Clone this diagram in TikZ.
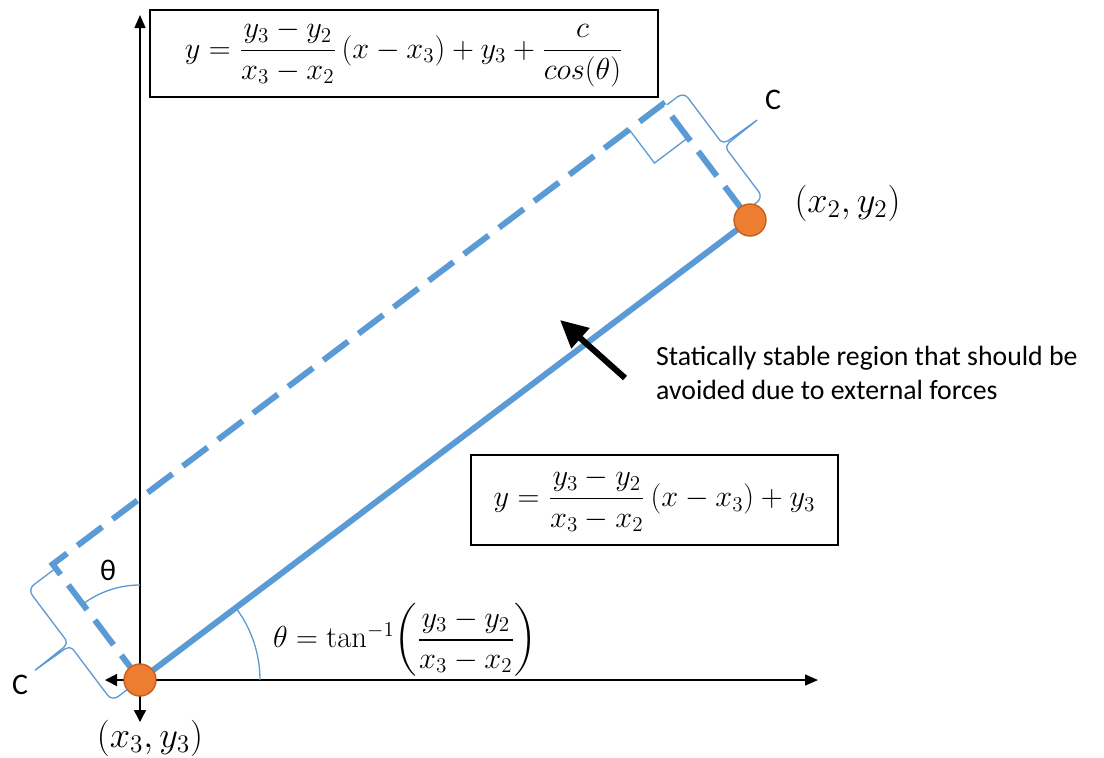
\documentclass[tikz,border=0pt]{standalone}
\usepackage{amsmath}
\usepackage{fontspec}
\newfontfamily\labelfont{Carlito}
\usetikzlibrary{positioning,arrows.meta,calc}
\definecolor{lineblue}{RGB}{91,155,213}
\definecolor{ptorange}{RGB}{237,125,49}
\definecolor{ptedge}{RGB}{196,96,30}

\begin{document}
\begin{tikzpicture}[
    axis/.style={line width=0.8pt, -{Triangle[length=2.6mm,width=2.2mm]}},
    thinblue/.style={draw=lineblue, line width=0.75pt},
    thickblue/.style={draw=lineblue, line width=3.4pt},
    bluedash/.style={draw=lineblue, line width=3.4pt, dash pattern=on 0.62cm off 0.26cm, line join=miter},
    endpt/.style={circle, fill=ptorange, draw=ptedge, line width=0.8pt, minimum size=0.64cm, inner sep=0pt},
    eqbox/.style={draw, line width=0.8pt, fill=white, inner sep=0pt, font=\fontsize{17.5}{20}\selectfont},
    ptlabel/.style={font=\fontsize{21}{25}\selectfont},
    clabel/.style={font=\labelfont\fontsize{17}{20}\selectfont},
    note/.style={font=\labelfont\fontsize{15.8}{19.3}\selectfont, align=left},
    bigarrow/.style={line width=3.4pt, -{Triangle[length=5.5mm,width=5.2mm]}},
  ]
  \useasboundingbox (0,0) rectangle (22.08,-15.14);

  % Points
  \coordinate (O) at (2.8,-13.6);
  \coordinate (P2) at (15,-4.4);
  \coordinate (A) at ($(O)+(127.02:2.9)$);
  \coordinate (B) at ($(P2)+(127.02:2.9)$);
  \coordinate (ytop) at (2.8,-0.3);
  \coordinate (xend) at (16.36,-13.6);
  \coordinate (cleft) at (2.1,-13.6);
  \coordinate (cdown) at (2.8,-14.44);

  % Axes
  \draw[axis] (O) -- (ytop);
  \draw[axis] (O) -- (xend);
  \draw[axis, -{Triangle[length=2.4mm,width=2.4mm]}] (O) -- (cleft);
  \draw[axis, -{Triangle[length=2.4mm,width=2.4mm]}] (O) -- (cdown);

  % Angles
  \draw[thinblue] ($(O)+(2.4,0)$) arc[start angle=0, end angle=37.02, radius=2.4];
  \draw[thinblue] ($(O)+(0,1.9)$) arc[start angle=90, end angle=127.02, radius=1.9];

  % Region
  \draw[bluedash] (O) -- (A) -- (B) -- (P2);
  \draw[thickblue] (O) -- (P2);

  % Right angle at B
  \begin{scope}[shift={(B)}, rotate=-52.98]
    \draw[thinblue] (0.84,0) -- (0.84,-0.84) -- (0,-0.84);
  \end{scope}

  % Braces
  \begin{scope}[shift={(O)}, rotate=127.02]
    \draw[thinblue] (0,0.3) -- (0,0.55) to[out=90,in=180] (0.15,0.7) -- (1.3,0.7)
      to[out=0,in=-100] (1.4,0.82) -- (1.42,1.56) -- (1.44,0.82)
      to[out=-80,in=180] (1.54,0.7) -- (2.65,0.7)
      to[out=0,in=90] (2.8,0.55) -- (2.8,0.06);
  \end{scope}
  \begin{scope}[shift={(B)}, rotate=-52.98]
    \draw[thinblue] (0.06,0.06) -- (0.06,0.33) to[out=90,in=180] (0.2,0.48) -- (1.27,0.48)
      to[out=0,in=-100] (1.37,0.6) -- (1.39,1.32) -- (1.41,0.6)
      to[out=-80,in=180] (1.51,0.48) -- (2.55,0.48)
      to[out=0,in=90] (2.7,0.33) -- (2.7,0.1);
  \end{scope}

  % End points
  \node[endpt] (p3) at (O) {};
  \node[endpt] (p2) at (P2) {};

  % Labels
  \node[ptlabel] (p3lbl) at (3.0,-14.76) {$(x_3,y_3)$};
  \node[ptlabel] (p2lbl) at (16.95,-4.06) {$(x_2,y_2)$};
  \node[clabel] (cbot) at (0.4,-13.7) {C};
  \node[clabel] (ctop) at (15.46,-2.0) {C};
  \node[clabel] (thup) at (2.16,-11.4) {θ};
  \node[font=\fontsize{17.5}{20}\selectfont] (theq) at (8.1,-12.8)
    {$\theta = \tan^{-1}\!\left(\dfrac{y_3-y_2}{x_3-x_2}\right)$};

  % Equation boxes
  \node[eqbox, minimum width=10.16cm, minimum height=1.74cm] (topeq) at (8.08,-1.07)
    {$y = \dfrac{y_3-y_2}{x_3-x_2}\,(x-x_3)+y_3+\dfrac{c}{cos(\theta)}$};
  \node[eqbox, minimum width=7.34cm, minimum height=1.8cm] (mideq) at (13.09,-10.0)
    {$y = \dfrac{y_3-y_2}{x_3-x_2}\,(x-x_3)+y_3$};

  % Note
  \node[note, anchor=west] (region) at (13.0,-7.45)
    {Statically stable region that should be\\avoided due to external forces};
  \coordinate (arrtail) at (12.5,-7.56);
  \coordinate (arrhead) at (11.2,-6.4);
  \draw[bigarrow] (arrtail) -- (arrhead);
\end{tikzpicture}
\end{document}
